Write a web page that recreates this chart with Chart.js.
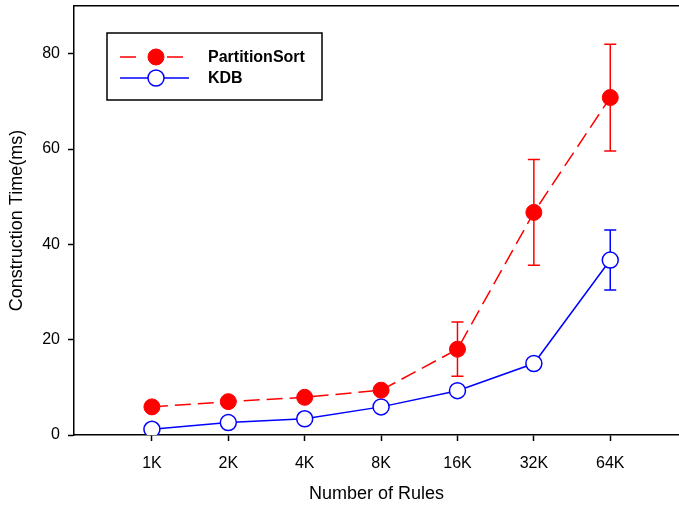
<!DOCTYPE html>
<html>
<head>
<meta charset="utf-8">
<script src="https://cdn.jsdelivr.net/npm/chart.js@4/dist/chart.umd.min.js"></script>
<style>
  html, body { margin: 0; padding: 0; background: #fff; overflow: hidden; }
  #wrap { width: 679px; height: 509px; position: relative; }
</style>
</head>
<body>
<div id="wrap"><canvas id="chart"></canvas></div>
<script>
// Rule-set sizes on the x axis
const ruleSizes = ['1K', '2K', '4K', '8K', '16K', '32K', '64K'];
// Mean construction time (ms) and error-bar half widths
const partitionSortTime = [5.9, 7.0, 7.9, 9.4, 18.0, 46.7, 70.8];
const partitionSortErr  = [0.4, 0.5, 0.5, 0.7, 5.7, 11.1, 11.2];
const kdbTime = [1.2, 2.6, 3.4, 5.9, 9.3, 15.0, 36.7];
const kdbErr  = [0.2, 0.3, 0.3, 0.5, 0.7, 1.0, 6.3];
const yTicks = [0, 20, 40, 60, 80];

const FONT = '"Liberation Sans", Arial, sans-serif';

const toPoints = vals => vals.map((v, i) => ({ x: i, y: v }));

// Vertical error bars with caps, drawn beneath lines and markers
const errorBars = {
  id: 'errorBars',
  beforeDatasetsDraw(chart) {
    const ctx = chart.ctx;
    const ys = chart.scales.y;
    chart.data.datasets.forEach((ds, di) => {
      const meta = chart.getDatasetMeta(di);
      ctx.save();
      ctx.strokeStyle = ds.borderColor;
      ctx.lineWidth = 1.5;
      meta.data.forEach((pt, j) => {
        const v = ds.data[j].y, e = ds.errors[j];
        if (!e) return;
        const top = ys.getPixelForValue(v + e);
        const bot = ys.getPixelForValue(v - e);
        ctx.beginPath();
        ctx.moveTo(pt.x, top); ctx.lineTo(pt.x, bot);
        ctx.moveTo(pt.x - 6, top); ctx.lineTo(pt.x + 6, top);
        ctx.moveTo(pt.x - 6, bot); ctx.lineTo(pt.x + 6, bot);
        ctx.stroke();
      });
      ctx.restore();
    });
  }
};

// Boxed legend inside the plot area
const boxLegend = {
  id: 'boxLegend',
  afterDraw(chart) {
    const ctx = chart.ctx;
    const a = chart.chartArea;
    const x0 = a.left + 33, y0 = a.top + 27, w = 215, h = 67;
    ctx.save();
    ctx.strokeStyle = '#000';
    ctx.lineWidth = 1.5;
    ctx.strokeRect(x0, y0, w, h);
    chart.data.datasets.forEach((ds, i) => {
      const yy = y0 + 24 + i * 21;
      ctx.strokeStyle = ds.borderColor;
      ctx.lineWidth = ds.borderWidth;
      ctx.setLineDash(ds.borderDash || []);
      ctx.beginPath();
      if (ds.borderDash) {
        ctx.moveTo(x0 + 13, yy); ctx.lineTo(x0 + 30, yy);
        ctx.moveTo(x0 + 60, yy); ctx.lineTo(x0 + 77, yy);
      } else {
        ctx.moveTo(x0 + 13, yy); ctx.lineTo(x0 + 82, yy);
      }
      ctx.stroke();
      ctx.setLineDash([]);
      ctx.beginPath();
      ctx.arc(x0 + 49, yy, ds.pointRadius, 0, Math.PI * 2);
      ctx.fillStyle = ds.pointBackgroundColor;
      ctx.fill();
      ctx.lineWidth = ds.pointBorderWidth;
      ctx.strokeStyle = ds.pointBorderColor;
      ctx.stroke();
      ctx.fillStyle = '#000';
      ctx.font = 'bold 16px ' + FONT;
      ctx.textBaseline = 'middle';
      ctx.textAlign = 'left';
      ctx.fillText(ds.label, x0 + 101, yy + 1);
    });
    ctx.restore();
  }
};

new Chart(document.getElementById('chart'), {
  type: 'line',
  data: {
    datasets: [
      {
        label: 'PartitionSort',
        data: toPoints(partitionSortTime),
        errors: partitionSortErr,
        borderColor: '#ff0000',
        borderWidth: 1.5,
        borderDash: [16, 7],
        pointRadius: 8,
        pointBackgroundColor: '#ff0000',
        pointBorderColor: '#ff0000',
        pointBorderWidth: 1,
        tension: 0
      },
      {
        label: 'KDB',
        data: toPoints(kdbTime),
        errors: kdbErr,
        borderColor: '#0000ff',
        borderWidth: 1.5,
        pointRadius: 8,
        pointBackgroundColor: '#ffffff',
        pointBorderColor: '#0000ff',
        pointBorderWidth: 1.5,
        tension: 0
      }
    ]
  },
  options: {
    responsive: true,
    maintainAspectRatio: false,
    animation: false,
    layout: { padding: 0, autoPadding: false },
    plugins: { legend: { display: false }, tooltip: { enabled: false } },
    scales: {
      x: {
        type: 'linear',
        position: 'bottom',
        min: -1.02,
        max: 6.9,
        afterBuildTicks(s) { s.ticks = ruleSizes.map((_, i) => ({ value: i })); },
        afterFit(s) { s.height = 74; s.paddingLeft = 0; s.paddingRight = 0; },
        grid: { drawOnChartArea: false, tickLength: 6, tickColor: '#000', tickWidth: 1.5 },
        border: { color: '#000', width: 1.5 },
        ticks: {
          autoSkip: false, maxRotation: 0, padding: 13,
          color: '#000', font: { family: FONT, size: 16 },
          callback: v => ruleSizes[v]
        },
        title: {
          display: true, text: 'Number of Rules', color: '#000',
          font: { family: FONT, size: 18 }, padding: { top: 0, bottom: 4 }
        }
      },
      xTop: {
        type: 'linear',
        position: 'top',
        min: -1.02,
        max: 6.9,
        afterFit(s) { s.height = 6; s.paddingLeft = 0; s.paddingRight = 0; },
        grid: { display: false, drawTicks: false },
        border: { color: '#000', width: 1.5 },
        ticks: { display: false }
      },
      y: {
        min: 0,
        max: 90,
        afterBuildTicks(s) { s.ticks = yTicks.map(v => ({ value: v })); },
        afterFit(s) { s.width = 74; s.paddingTop = 0; s.paddingBottom = 0; },
        grid: { drawOnChartArea: false, tickLength: 6, tickColor: '#000', tickWidth: 1.5 },
        border: { color: '#000', width: 1.5 },
        ticks: { padding: 8, color: '#000', font: { family: FONT, size: 16 } },
        title: {
          display: true, text: 'Construction Time(ms)', color: '#000',
          font: { family: FONT, size: 18 }, padding: { top: 6, bottom: 6 }
        }
      }
    }
  },
  plugins: [errorBars, boxLegend]
});
</script>
</body>
</html>
